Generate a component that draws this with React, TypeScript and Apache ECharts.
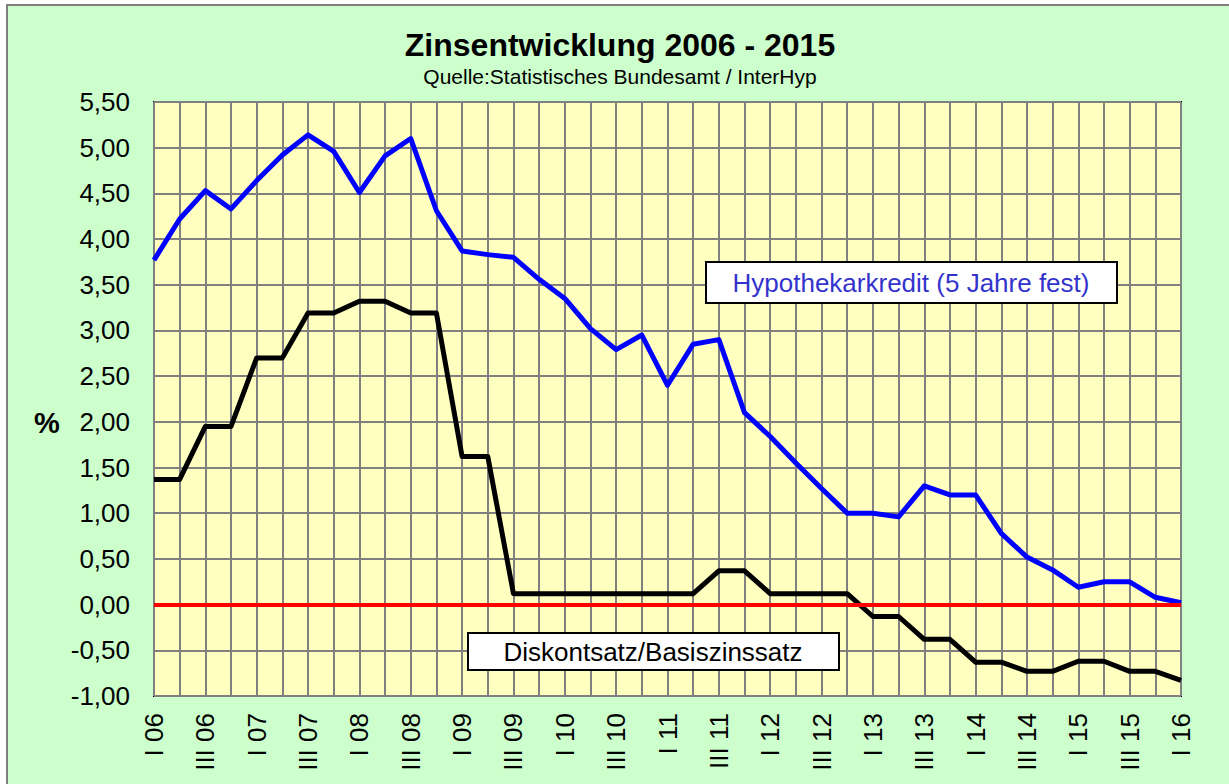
import React, { useEffect, useRef } from "react";
import * as echarts from "echarts";

const categories = [
  "I 06", "II 06", "III 06", "IV 06",
  "I 07", "II 07", "III 07", "IV 07",
  "I 08", "II 08", "III 08", "IV 08",
  "I 09", "II 09", "III 09", "IV 09",
  "I 10", "II 10", "III 10", "IV 10",
  "I 11", "II 11", "III 11", "IV 11",
  "I 12", "II 12", "III 12", "IV 12",
  "I 13", "II 13", "III 13", "IV 13",
  "I 14", "II 14", "III 14", "IV 14",
  "I 15", "II 15", "III 15", "IV 15",
  "I 16",
];

const hypothekarkredit = [
  3.77, 4.22, 4.53, 4.33, 4.64, 4.92, 5.14, 4.96, 4.51, 4.91, 5.10, 4.31,
  3.87, 3.83, 3.80, 3.56, 3.35, 3.02, 2.79, 2.95, 2.40, 2.85, 2.90, 2.10,
  1.84, 1.55, 1.27, 1.00, 1.00, 0.96, 1.30, 1.20, 1.20, 0.78, 0.52, 0.38,
  0.19, 0.25, 0.25, 0.08, 0.02,
];

const diskontsatz = [
  1.37, 1.37, 1.95, 1.95, 2.70, 2.70, 3.19, 3.19, 3.32, 3.32, 3.19, 3.19,
  1.62, 1.62, 0.12, 0.12, 0.12, 0.12, 0.12, 0.12, 0.12, 0.12, 0.37, 0.37,
  0.12, 0.12, 0.12, 0.12, -0.13, -0.13, -0.38, -0.38, -0.63, -0.63, -0.73, -0.73,
  -0.62, -0.62, -0.73, -0.73, -0.83,
];

const yMin = -1;
const yMax = 5.5;
const yStep = 0.5;
const zeroLine = 0;

const FONT = "Arial, 'Liberation Sans', sans-serif";

export default function App() {
  const ref = useRef<HTMLDivElement>(null);

  useEffect(() => {
    document.body.style.margin = "0";
    if (!ref.current) return;
    const chart = echarts.init(ref.current, null, { renderer: "svg" });
    chart.setOption({
      animation: false,
      backgroundColor: "transparent",
      grid: {
        left: 154,
        right: 48,
        top: 102,
        bottom: 88,
        show: true,
        backgroundColor: "#FFFFC0",
        borderColor: "#000000",
        borderWidth: 2,
      },
      xAxis: {
        type: "category",
        data: categories,
        boundaryGap: false,
        axisLine: { show: false },
        axisTick: { show: false },
        axisLabel: {
          interval: 1,
          rotate: 90,
          margin: 17,
          fontSize: 26,
          color: "#000000",
          fontFamily: FONT,
        },
        splitLine: {
          show: true,
          interval: 0,
          lineStyle: { color: "#808080", width: 2 },
        },
      },
      yAxis: {
        type: "value",
        min: yMin,
        max: yMax,
        interval: yStep,
        axisLine: { show: false },
        axisTick: { show: false },
        axisLabel: {
          margin: 24,
          fontSize: 26,
          color: "#000000",
          fontFamily: FONT,
          formatter: (v: number) => v.toFixed(2).replace(".", ","),
        },
        splitLine: {
          show: true,
          lineStyle: { color: "#808080", width: 2 },
        },
      },
      series: [
        {
          name: "Diskontsatz/Basiszinssatz",
          type: "line",
          data: diskontsatz,
          symbol: "none",
          lineStyle: { color: "#000000", width: 5, join: "round" },
          itemStyle: { color: "#000000" },
        },
        {
          name: "Hypothekarkredit (5 Jahre fest)",
          type: "line",
          data: hypothekarkredit,
          symbol: "none",
          lineStyle: { color: "#0000FF", width: 5, join: "round" },
          itemStyle: { color: "#0000FF" },
          markLine: {
            silent: true,
            symbol: "none",
            label: { show: false },
            lineStyle: { color: "#FF0000", width: 4, type: "solid" },
            data: [{ yAxis: zeroLine }],
          },
        },
      ],
      graphic: [
        {
          type: "text",
          x: 620,
          y: 45,
          style: {
            text: "Zinsentwicklung 2006 - 2015",
            fontSize: 32,
            fontWeight: "bold",
            fontFamily: FONT,
            fill: "#000000",
            align: "center",
            verticalAlign: "middle",
          },
        },
        {
          type: "text",
          x: 620,
          y: 76,
          style: {
            text: "Quelle:Statistisches Bundesamt / InterHyp",
            fontSize: 21,
            fontFamily: FONT,
            fill: "#000000",
            align: "center",
            verticalAlign: "middle",
          },
        },
        {
          type: "text",
          x: 47,
          y: 423,
          style: {
            text: "%",
            fontSize: 29,
            fontWeight: "bold",
            fontFamily: FONT,
            fill: "#000000",
            align: "center",
            verticalAlign: "middle",
          },
        },
        {
          type: "rect",
          z: 100,
          shape: { x: 706, y: 262, width: 411, height: 41 },
          style: { fill: "#FFFFFF", stroke: "#000000", lineWidth: 2 },
        },
        {
          type: "text",
          z: 101,
          x: 911,
          y: 283,
          style: {
            text: "Hypothekarkredit (5 Jahre fest)",
            fontSize: 26,
            fontFamily: FONT,
            fill: "#3333CC",
            align: "center",
            verticalAlign: "middle",
          },
        },
        {
          type: "rect",
          z: 100,
          shape: { x: 468, y: 633, width: 371, height: 37 },
          style: { fill: "#FFFFFF", stroke: "#000000", lineWidth: 2 },
        },
        {
          type: "text",
          z: 101,
          x: 653,
          y: 652,
          style: {
            text: "Diskontsatz/Basiszinssatz",
            fontSize: 26,
            fontFamily: FONT,
            fill: "#000000",
            align: "center",
            verticalAlign: "middle",
          },
        },
      ],
    });
    return () => chart.dispose();
  }, []);

  return (
    <div
      style={{
        position: "fixed",
        left: 0,
        top: 0,
        width: 1229,
        height: 784,
        background: "#FFFFFF",
        overflow: "hidden",
      }}
    >
      <div
        style={{
          position: "absolute",
          left: 6,
          top: 4,
          right: -4,
          bottom: -4,
          background: "#CCFFCC",
          borderTop: "2px solid #7F7F7F",
          borderLeft: "2px solid #7F7F7F",
        }}
      />
      <div
        ref={ref}
        style={{ position: "absolute", left: 0, top: 0, width: 1229, height: 784 }}
      />
    </div>
  );
}
